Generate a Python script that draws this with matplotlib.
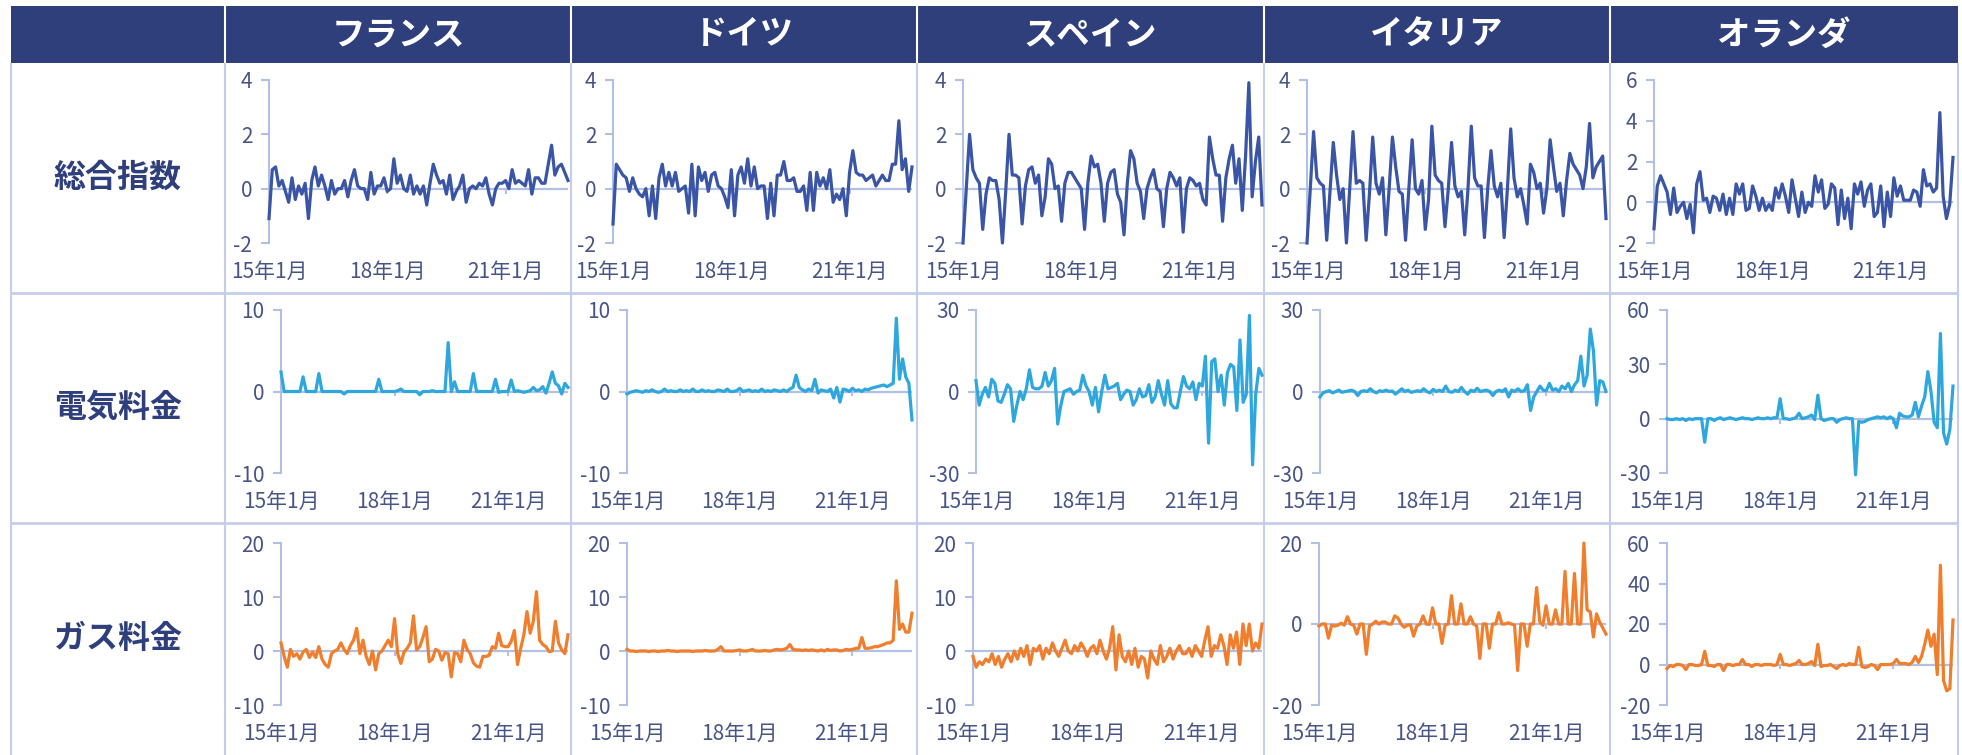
import numpy as np
import matplotlib.pyplot as plt
from matplotlib.patches import Rectangle

plt.rcParams['font.family'] = ['Noto Sans CJK JP', 'DejaVu Sans']

#-------------------------------------------------------------------------------
# data: month-on-month change (%), 2015-01 .. 2022-08 (92 months)
#-------------------------------------------------------------------------------
countries = ['フランス', 'ドイツ', 'スペイン', 'イタリア', 'オランダ']
row_names = ['総合指数', '電気料金', 'ガス料金']
xtick_pos = [0, 36, 72]
xtick_labels = ['15年1月', '18年1月', '21年1月']

fr_all = [-1.1, 0.7, 0.8, 0.1, 0.3, -0.1, -0.5, 0.4, -0.4, 0.1, -0.2, 0.2,
          -1.1, 0.3, 0.8, 0.1, 0.5, 0.1, -0.4, 0.3, -0.2, 0.0, 0.0, 0.3,
          -0.3, 0.3, 0.7, 0.1, 0.0, 0.0, -0.4, 0.6, -0.2, 0.1, 0.1, 0.4,
          -0.1, 0.0, 1.1, 0.2, 0.5, 0.0, -0.1, 0.5, -0.2, 0.1, -0.2, 0.1,
          -0.6, 0.2, 0.9, 0.5, 0.2, 0.3, -0.2, 0.5, -0.4, -0.1, 0.1, 0.5,
          -0.5, 0.0, 0.1, 0.0, 0.2, 0.1, 0.4, -0.2, -0.6, 0.0, 0.2, 0.2,
          0.3, 0.0, 0.7, 0.2, 0.3, 0.2, 0.1, 0.7, -0.2, 0.4, 0.4, 0.2,
          0.2, 0.9, 1.6, 0.5, 0.8, 0.9, 0.6, 0.3]
de_all = [-1.3, 0.9, 0.7, 0.5, 0.4, -0.1, 0.4, 0.0, -0.2, -0.3, 0.0, -1.0,
          0.1, -1.1, 0.4, 0.9, 0.1, 0.6, 0.1, 0.6, -0.1, 0.0, 0.1, -0.9,
          0.9, -1.0, 0.8, 0.3, 0.6, -0.1, 0.5, 0.6, 0.1, 0.0, -0.3, -0.7,
          0.7, -1.0, 0.5, 0.8, 0.2, 1.1, 0.1, 0.8, 0.0, 0.1, 0.1, -1.1,
          0.2, -1.0, 0.5, 0.5, 1.0, 0.3, 0.3, 0.4, -0.1, -0.1, 0.1, -0.8,
          0.6, -0.8, 0.6, 0.1, 0.4, 0.0, 0.7, -0.5, -0.2, -0.4, 0.0, -1.0,
          0.6, 1.4, 0.6, 0.5, 0.5, 0.3, 0.4, 0.5, 0.1, 0.3, 0.5, 0.3,
          0.3, 0.9, 0.9, 2.5, 0.7, 1.1, -0.1, 0.8]
es_all = [-2.0, 0.0, 2.0, 0.7, 0.4, 0.2, -1.5, -0.2, 0.4, 0.3, 0.3, -0.4,
          -2.0, -0.1, 2.0, 0.5, 0.5, 0.4, -1.3, 0.1, 0.7, 0.8, 0.2, 0.5,
          -1.0, -0.3, 1.1, 0.9, 0.0, 0.1, -1.2, 0.2, 0.6, 0.6, 0.4, 0.2,
          0.0, -1.5, 0.2, 1.2, 0.8, 0.9, 0.2, -1.2, 0.2, 0.6, 0.7, -0.2,
          -0.5, -1.7, 0.2, 1.4, 1.1, 0.2, -0.1, -1.1, 0.0, 0.4, 0.7, 0.0,
          -0.1, -1.4, 0.0, 0.6, 0.4, 0.1, 0.4, -1.6, 0.0, 0.4, 0.3, 0.1,
          0.2, -0.4, -0.6, 1.9, 1.1, 0.5, 0.5, -1.2, 0.4, 1.1, 1.6, 0.2,
          1.1, -0.8, 1.2, 3.9, -0.3, 1.0, 1.9, -0.6]
it_all = [-2.0, 0.0, 2.1, 0.4, 0.2, 0.1, -1.9, -0.1, 1.7, 0.5, -0.4, 0.0,
          -2.0, 0.0, 2.1, 0.2, 0.3, 0.2, -1.9, -0.2, 1.9, 0.2, -0.2, 0.4,
          -1.7, 0.0, 1.9, 0.8, -0.1, -0.2, -1.9, 0.0, 1.8, 0.0, -0.2, 0.3,
          -1.5, -0.4, 2.3, 0.5, 0.3, 0.2, -1.4, 0.0, 1.7, 0.1, -0.3, -0.1,
          -1.7, 0.0, 2.3, 0.4, 0.1, 0.1, -1.8, 0.0, 1.4, 0.1, -0.3, 0.2,
          -1.8, 0.0, 2.2, 0.4, -0.3, 0.0, -0.6, -1.3, 0.9, 0.6, 0.0, 0.2,
          -0.9, 0.0, 1.8, 0.8, -0.1, 0.2, -1.0, 0.3, 1.3, 0.9, 0.7, 0.5,
          0.0, 0.8, 2.4, 0.4, 0.8, 1.0, 1.2, -1.1]
nl_all = [-1.3, 0.8, 1.3, 0.9, 0.5, -0.6, 0.7, -0.5, -0.2, 0.0, -0.8, -0.1,
          -1.5, 0.9, 1.5, 0.1, 0.2, -0.5, 0.3, 0.2, -0.4, 0.4, -0.6, 0.2,
          -0.6, 0.9, 0.4, 0.9, -0.4, -0.3, 0.8, 0.3, -0.4, 0.2, -0.4, -0.1,
          -0.4, 0.7, 0.2, 0.9, 0.3, -0.5, 1.1, 0.2, -0.7, 0.5, -0.5, 0.0,
          -0.2, 1.3, 0.5, 1.1, -0.3, -0.1, 0.9, 0.7, -1.1, 0.6, -0.8, 0.2,
          -1.3, 0.9, 0.4, 1.0, -0.2, 0.6, 0.9, -0.7, -0.5, 0.8, -1.2, 0.5,
          -0.7, 1.2, 0.3, 0.8, 0.1, 0.1, 0.1, 0.6, 0.5, -0.2, 1.6, 0.8,
          0.9, 0.5, 0.7, 4.4, 0.3, -0.8, -0.1, 2.2]

fr_elec = [2.4, 0, 0, 0, 0, 0, 0, 1.8, 0, 0, 0, 0,
           2.2, 0, 0, 0, 0, 0, 0, 0, -0.3, 0, 0, 0,
           0, 0, 0, 0, 0, 0, 0, 1.5, 0, 0, 0, 0,
           0, 0.1, 0.3, 0, 0, 0, 0, 0, -0.4, 0, 0, 0,
           0.1, 0, 0, 0, 0, 6.0, 0, 1.2, 0, 0, 0, 0,
           0, 2.2, 0, 0, 0, 0, 0, 0, 1.5, -0.1, 0, 0,
           0, 1.4, 0, 0.1, 0, -0.1, 0, 0.1, 0.5, 0.1, 0.2, 0.6,
           -0.2, 1.0, 2.4, 1.0, 0.7, -0.3, 1.0, 0.5]
de_elec = [-0.3, -0.1, 0, 0.1, 0, -0.1, 0.1, 0, 0.2, 0, -0.1, 0,
           0.3, 0, 0.1, 0, 0, 0.2, 0, 0.1, 0, 0.3, 0, 0,
           0.2, 0, 0.1, 0, 0, 0.2, 0.1, 0, 0.3, 0, 0, 0.1,
           0.4, 0, 0.1, 0.2, 0, 0.1, 0, 0.3, 0, 0.1, 0, 0.2,
           0.1, 0, 0.2, 0, 0.3, 0.5, 2.0, 0.5, 0.2, 0, 0.3, 0.1,
           1.5, -0.2, 0.2, 0.1, 0, 0.3, -0.8, 0.5, -1.3, 0.3, 0.2, 0,
           0.4, 0.1, 0.2, 0, 0.3, 0.2, 0.4, 0.5, 0.6, 0.7, 0.8, 0.6,
           0.8, 1.0, 9.0, 1.5, 4.0, 1.8, 1.0, -3.5]
es_elec = [4, -5, -1, 1.5, -2, 4.5, 3, -3.5, -4, -1, 2.5, 1,
           -11, -5, 0, -3, 1, 8, 1.5, 1, 1, 2, 7, 2,
           4, 8.5, -12, -5, 0, 0.5, 1, -1, 0, 0.5, 6, 2,
           0, -5, 1.5, -7.5, 0, 6, 1, 1.5, 2, 3, -3, -1,
           0.5, 0, -5, -3, 1, -2, -1.5, 2.5, -4, -2, 4, -1,
           -5, 4, -4.5, -6, -6, 0, 5.5, 2, 1, 3.5, -3, 3,
           2, 13, -19, 11, 12, 0, 6, -5, 7, 10, 9, -7,
           19, -4, -1, 28, -27, -1, 8.5, 6]
it_elec = [-2.0, -0.5, 0, 0.3, -0.5, 0, 0.5, -0.3, 0, 0.2, 0.5, 0,
           -1.5, 0, 0.3, 0, 1.0, 0, -0.5, 0.3, 0, 0.5, 0, 0.2,
           -1.0, 0, 1.0, 0, 0.5, -0.3, 0, 0.3, 0, 1.0, 0, -0.5,
           0.8, 0, 0.5, 0, 2.0, 0, -0.3, 0.5, 0, 1.5, 0, -1.0,
           0.5, 0, 1.2, 0, 0.3, 0.5, 0, -1.5, 0, 0.5, 0, 1.0,
           -2.0, 0.5, 0, 1.0, 0, 0.3, 2.5, -7.0, -2.0, 0, 2.0, 0.5,
           0.3, 3.0, 0.5, 1.0, 0, 2.0, 1.0, 3.0, 0, 2.5, 4.0, 13.0,
           2.0, 6.0, 23.0, 15.0, -5.0, 4.0, 3.5, 0]
nl_elec = [0, -0.5, -0.5, 0, -0.5, 0, -1, 0, -0.5, 0, 0, 0,
           -13, 0, 0, -1, 0, 0.5, -0.5, 0, 0.5, 0, -0.5, 0,
           0.5, 0, 0, -0.5, 0, 0.5, 0, 0, 0.5, 0, 0.5, 0.5,
           11, 0, 0, -0.5, 0, 0.5, 3, 0, 0.5, 1, 2, -0.5,
           13, 0, -1, -0.5, 0, 0, -2, -0.5, 0, 0.5, 0, 0,
           -31, -1.5, -2, -1.5, -0.5, 0, 0.5, 1, 0.5, 1, 0, 1,
           0, -5, 3, 1.5, 1, 1, 2, 9, 1, 7, 12, 26,
           15, -2, -5, 47, -8, -14, -6, 18]

fr_gas = [1.5, -1, -3, 0.3, -1, -0.5, -1.5, -0.2, 0.3, -1.2, -0.2, -1.2,
          0.8, -1.5, -2.5, -3, -0.5, 0, 0.3, 1.5, 0.3, -0.5, 1, 2,
          4.2, -0.5, 2, -1, -2.5, 0, -3.5, -0.5, 0, 1, 2, 0.8,
          6, -0.5, -2.3, -0.2, 0.5, 1.5, 6.5, 0.2, 0.8, 2.5, 4.5, -2,
          -1.5, 0.3, 0, -1.7, -0.3, -0.5, -4.8, -0.3, -0.5, -2, 2, 0.3,
          -0.5, -2.2, -2.8, -3, -1, -1, -0.8, 0.8, 0.5, 3.3, 1, 0.8,
          0.8, 1.8, 3.8, -2.5, 0.5, 3, 7.3, 3.3, 5.5, 11, 2, 1.2,
          0.8, -0.1, 0, 5.5, 1.5, 0.2, -0.5, 3]
de_gas = [0.3, 0, 0, -0.1, 0, 0, 0, -0.1, 0, 0, -0.1, 0,
          0, 0.1, 0, 0, -0.1, 0, 0, 0, 0, -0.1, 0, 0,
          0, 0.1, 0, 0, 0, 0.3, 0.8, 0, 0, 0, 0, 0.1,
          0.2, 0, 0, 0.1, 0.3, 0, 0, 0, 0.1, 0, 0, 0.2,
          0.3, 0.2, 0.3, 0.5, 1.2, 0.3, 0.2, 0.2, 0.1, 0.2, 0.1, 0.2,
          0.1, 0, 0.2, 0, 0.3, 0.1, 0.2, 0.2, 0, 0.1, 0.3, 0.2,
          0.3, 0.5, 0.5, 2.5, 0.5, 0.5, 0.6, 0.8, 0.8, 1.0, 1.2, 1.5,
          1.5, 2.0, 13.0, 4.0, 5.0, 3.5, 3.5, 7.0]
es_gas = [-1.0, -3.0, -2.0, -2.5, -1.5, -2.0, -0.5, -2.5, -1.0, -3.0, -1.5, -0.5,
          -2.0, 0.0, -1.5, 0.5, -1.0, 1.0, -2.5, 0.5, 0.0, 1.0, -1.5, 0.5,
          -0.5, 1.5, 0.0, -1.0, 0.5, 2.0, 0.0, -0.5, 1.0, 0.0, 1.5, 0.5,
          -1.0, 0.5, 1.0, -0.5, 2.0, 0.0, -1.5, 0.5, 4.5, -3.5, 3.0, -1.0,
          -2.0, 0.0, -2.5, 0.5, -3.0, -1.0, -1.5, -5.0, 0.0, -1.5, -2.5, 1.0,
          -2.0, -1.0, 0.5, -1.5, 0.0, 1.0, -0.5, -0.5, 0.5, -1.0, 1.0, 0.0,
          -1.0, 2.0, 4.5, -1.0, 1.0, 0.5, 3.0, 1.0, -2.5, 3.0, 0.5, 3.5,
          -2.5, 5.0, 1.0, 5.0, 0.0, 1.5, 0.5, 5.0]
it_gas = [-0.5, 0, 0, -3.5, -0.3, -0.5, -0.3, 0.2, -0.3, 1.8, 0, -0.3,
          -2.5, 0, 0, -7.5, -0.5, 0, 0.7, 0, 0.5, 0.5, 0, 0,
          2, 1.5, 0, -0.8, -0.3, -0.2, -3, -0.5, 0, 2, 0, -0.1,
          4, 0, 0, -4.8, -0.2, 0, 7, 0, 0, 5, 0, 0,
          1.8, 0, -0.5, -8.5, 0, 0, -6, 0, 0, 2.8, 0, 0,
          0.3, 0, -0.3, -11.5, 0, 0, -5.5, 0, 0, 9, 0.5, -0.3,
          4.5, 0, 0, 3.5, 0, 0, 13, 0, 0, 12.5, 0, 0,
          20, 3.5, 3, -3.2, 2.5, 0.5, -1, -2.5]
nl_gas = [-2, -0.5, -1, 0, 0, -0.5, -2.5, 0, 0, -0.5, -0.5, 0,
          6.5, -0.5, -0.5, -1, 0, 0, -3, 0, 0, -0.5, 0, 0,
          2.5, 0, 0, -1, 0, 0, -0.5, 0, 0, 0, -0.5, 0,
          5, 0, 0, -0.5, 0, 0.5, 2, 0, 0, 0.5, 1.5, -0.5,
          10, -1, -0.5, -0.5, 0, -1, -2, -0.5, 0, -0.5, 0.5, 0,
          0, 8.5, -1, -1.5, -1, 0, -0.5, -2.5, 0, 0, 0, 0,
          0.5, 2.5, 0.5, 0.5, 0.5, 0, 1, 4, 1, 4, 10, 17,
          9, 15, -5, 49, -8, -13, -12, 22]

series = [[fr_all, de_all, es_all, it_all, nl_all],
          [fr_elec, de_elec, es_elec, it_elec, nl_elec],
          [fr_gas, de_gas, es_gas, it_gas, nl_gas]]
yticks = [[[-2, 0, 2, 4]] * 4 + [[-2, 0, 2, 4, 6]],
          [[-10, 0, 10]] * 2 + [[-30, 0, 30]] * 2 + [[-30, 0, 30, 60]],
          [[-10, 0, 10, 20]] * 3 + [[-20, 0, 20]] + [[-20, 0, 20, 40, 60]]]

#-------------------------------------------------------------------------------
# styling / layout (pixels)
#-------------------------------------------------------------------------------
navy = '#2E3F7B'
gridc = '#C6CDEB'
axc = '#B3C0E6'
txtc = '#475586'
line_colors = ['#3A55A6', '#2EA7DE', '#F07E2C']

W, H = 1962, 755
table_left = 11
col_edges = [225, 571, 917, 1264, 1610, 1958]
row_edges = [63, 293, 523, 755]
left_off = [[44, 42, 46, 43, 44], [56, 56, 59, 56, 57], [56, 56, 56, 55, 57]]
right_off = [3, 5, 2, 4, 5]
top_off = [17, 17, 20]
bot_off = [180, 180, 182]

fig = plt.figure(figsize=(W / 100, H / 100), dpi=100)
bg = fig.add_axes([0, 0, 1, 1])
bg.set_xlim(0, W)
bg.set_ylim(H, 0)
bg.axis('off')

# header band
bg.add_patch(Rectangle((table_left, 6), col_edges[-1] - table_left, row_edges[0] - 6,
                       facecolor=navy, edgecolor='none'))
bg.vlines(col_edges[:-1], 6, row_edges[0], color='white', lw=1.5)
# table grid
bg.hlines(row_edges[1:3], table_left, col_edges[-1], color=gridc, lw=2)
bg.vlines([table_left] + col_edges, row_edges[0], H, color=gridc, lw=1.5)

for c, name in enumerate(countries):
    bg.text((col_edges[c] + col_edges[c + 1]) / 2, 35, name, color='white',
            fontsize=24, fontweight='bold', ha='center', va='center')
for r, name in enumerate(row_names):
    bg.text((table_left + col_edges[0]) / 2, (row_edges[r] + row_edges[r + 1]) / 2, name,
            color=navy, fontsize=23, fontweight='bold', ha='center', va='center')

for r in range(3):
    for c in range(5):
        x0 = col_edges[c] + left_off[r][c]
        x1 = col_edges[c + 1] - right_off[c]
        y0 = row_edges[r] + top_off[r]
        y1 = row_edges[r] + bot_off[r]
        ax = fig.add_axes([x0 / W, 1 - y1 / H, (x1 - x0) / W, (y1 - y0) / H])
        ax.patch.set_alpha(0)
        yt = yticks[r][c]
        vals = series[r][c]
        ax.set_xlim(0, 91)
        ax.set_ylim(yt[0], yt[-1])
        for s in ['top', 'right', 'bottom']:
            ax.spines[s].set_visible(False)
        ax.spines['left'].set_color(axc)
        ax.spines['left'].set_linewidth(1.5)
        ax.axhline(0, color=axc, lw=1.6, zorder=1)
        frac0 = (0 - yt[0]) / (yt[-1] - yt[0])
        ax.vlines(xtick_pos[1:], frac0 - 0.03, frac0, color=axc, lw=1.5,
                  transform=ax.get_xaxis_transform(), zorder=1)
        ax.plot(np.arange(len(vals)), vals, color=line_colors[r], lw=2.3, zorder=3,
                clip_on=False)
        ax.set_yticks(yt)
        ax.set_yticklabels([str(v) for v in yt])
        ax.tick_params(axis='y', direction='out', length=6, width=1.5, color=axc,
                       labelcolor=txtc, labelsize=15, pad=6)
        ax.set_xticks(xtick_pos)
        ax.set_xticklabels(xtick_labels)
        ax.tick_params(axis='x', length=0, labelcolor=txtc, labelsize=15, pad=13)

fig.savefig('out.png', dpi=100)
